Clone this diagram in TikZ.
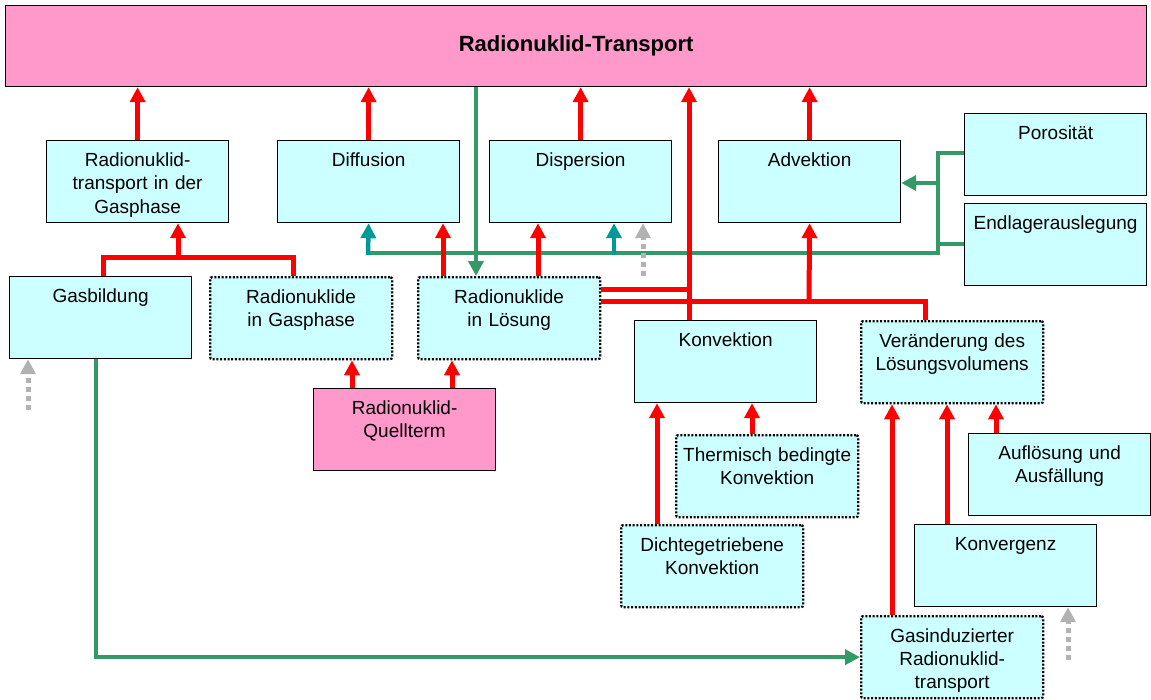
\documentclass[tikz,border=0pt]{standalone}
\usepackage{fontspec}
\setmainfont{Liberation Sans}
\usepackage{tikz}
\usetikzlibrary{arrows.meta}
\definecolor{boxcyan}{RGB}{204,255,255}
\definecolor{boxpink}{RGB}{255,153,204}
\definecolor{arrred}{RGB}{255,0,0}
\definecolor{arrgreen}{RGB}{51,153,102}
\definecolor{arrteal}{RGB}{0,153,153}
\definecolor{arrgray}{RGB}{178,178,178}
\tikzset{
  box/.style={draw,line width=1.2pt,fill=boxcyan,anchor=north west,inner sep=0pt,
    minimum width=182pt,text width=178pt,align=center,text height=26pt,text depth=56pt,
    font=\fontsize{19}{23.3}\selectfont},
  dotbox/.style={box,line width=2.3pt,dash pattern=on 2pt off 1.7pt,rounded corners=2pt},
  titlebox/.style={draw,line width=1.2pt,fill=boxpink,anchor=north west,inner sep=0pt,
    minimum width=1141pt,minimum height=81pt,font=\fontsize{22}{26}\selectfont\bfseries},
  tip/.style={-{Triangle[width=15pt,length=15pt]}},
  redline/.style={draw=arrred,line width=5pt},
  redarr/.style={redline,tip},
  greenline/.style={draw=arrgreen,line width=4pt},
  greenarr/.style={greenline,tip},
  tealarr/.style={draw=arrteal,line width=4.5pt,tip},
  grayarr/.style={draw=arrgray,line width=5pt,dash pattern=on 5pt off 4pt,tip}
}
\begin{document}
\begin{tikzpicture}[x=1pt,y=-1pt]
\useasboundingbox (0,0) rectangle (1151,699);
%boxes
\node[titlebox] (rntrans) at (5,5) {Radionuklid-Transport};
\node[box] (gastrans) at (46,140) {Radionuklid-\\transport in der\\Gasphase};
\node[box] (diff) at (277,140) {Diffusion};
\node[box] (disp) at (489,140) {Dispersion};
\node[box] (adv) at (718,140) {Advektion};
\node[box] (poros) at (964,113) {Porosität};
\node[box] (endl) at (964,203) {Endlagerauslegung};
\node[box] (gasb) at (9,276) {Gasbildung};
\node[dotbox] (rngas) at (209,276) {Radionuklide\\in Gasphase};
\node[dotbox] (rnloes) at (417,276) {Radionuklide\\in Lösung};
\node[box] (konv) at (634,320) {Konvektion};
\node[dotbox] (vol) at (860,320) {Veränderung des\\Lösungsvolumens};
\node[box,fill=boxpink] (quell) at (313,388) {Radionuklid-\\Quellterm};
\node[dotbox] (therm) at (675,434) {Thermisch bedingte\\Konvektion};
\node[box] (aufl) at (968,433) {Auflösung und\\Ausfällung};
\node[dotbox] (dichte) at (620,524) {Dichtegetriebene\\Konvektion};
\node[box] (konvg) at (914,524) {Konvergenz};
\node[dotbox] (gasind) at (860,615) {Gasinduzierter\\Radionuklid-\\transport};
%green lines
\draw[greenline] (poros.west |- 0,153) -- (938,153) -- (938,253) -- (368,253);
\draw[greenline] (endl.west |- 0,244) -- (938,244);
\draw[greenarr] (938,183) -- (adv.east |- 0,183);
\draw[tealarr] (368,255) -- (diff.south);
\draw[tealarr] (614,255) -- (614,0 |- disp.south);
\draw[greenarr] (96,0 |- gasb.south) -- (96,0 |- gasind.west) -- (gasind.west);
%arrows to top
\foreach \n in {gastrans,diff,disp,adv}
  \draw[redarr] (\n.north) -- (\n.north |- rntrans.south);
\draw[redarr] (689,0 |- konv.north) -- (689,0 |- rntrans.south);
\draw[greenarr] (476,0 |- rntrans.south) -- (476,0 |- rnloes.north);
%gas phase
\draw[redline] (103,0 |- gasb.north) -- (103,257) -- (293,257) -- (293,0 |- rngas.north);
\draw[redarr] (178,257) -- (gastrans.south -| 178,0);
%solution
\draw[redarr] (443,0 |- rnloes.north) -- (443,0 |- diff.south);
\draw[redarr] (538,0 |- rnloes.north) -- (538,0 |- disp.south);
\draw[redline] (rnloes.east |- 0,289) -- (689,289);
\draw[redline] (rnloes.east |- 0,301) -- (925,301) -- (925,0 |- vol.north);
\draw[redarr] (809,301) -- (adv.south);
%source term
\draw[redarr] (352,0 |- quell.north) -- (352,0 |- rngas.south);
\draw[redarr] (452,0 |- quell.north) -- (452,0 |- rnloes.south);
%convection and volume
\draw[redarr] (657,0 |- dichte.north) -- (657,0 |- konv.south);
\draw[redarr] (752,0 |- therm.north) -- (752,0 |- konv.south);
\draw[redarr] (892,0 |- gasind.north) -- (892,0 |- vol.south);
\draw[redarr] (947,0 |- konvg.north) -- (947,0 |- vol.south);
\draw[redarr] (996,0 |- aufl.north) -- (996,0 |- vol.south);
%gray
\draw[grayarr] (28,410) -- (28,0 |- gasb.south);
\draw[grayarr] (643,0 |- rnloes.north) -- (643,0 |- disp.south);
\draw[grayarr] (1068,660) -- (1068,0 |- konvg.south);
\end{tikzpicture}
\end{document}
